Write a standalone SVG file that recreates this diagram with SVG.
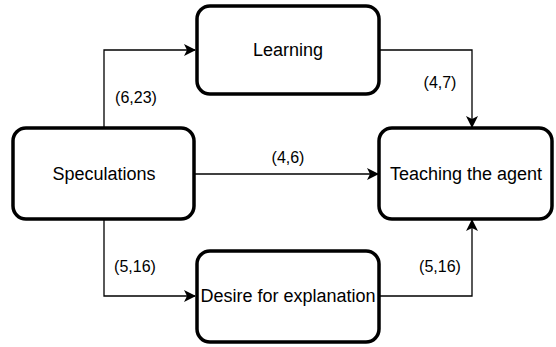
<svg xmlns="http://www.w3.org/2000/svg" width="556" height="347" viewBox="0 0 556 347">
  <style>
    .box { fill: #ffffff; stroke: #000000; stroke-width: 3.5; }
    .node-text { font-family: "Liberation Sans", Arial, sans-serif; font-size: 18px; fill: #000000; text-anchor: middle; }
    .edge { fill: none; stroke: #000000; stroke-width: 1.3; marker-end: url(#arrow); }
    .edge-label { font-family: "Liberation Sans", Arial, sans-serif; font-size: 16px; fill: #000000; text-anchor: middle; }
  </style>
  <defs>
    <marker id="arrow" viewBox="0 0 12 12" refX="11" refY="6" markerWidth="12" markerHeight="12" markerUnits="userSpaceOnUse" orient="auto">
      <path d="M0,0 L12,6 L0,12 L3,6 Z" fill="#000000"/>
    </marker>
  </defs>
  <rect width="556" height="347" fill="#ffffff"/>

  <g id="connectors">
    <path class="edge" d="M104,128 V50 H195"/>
    <path class="edge" d="M380,50 H472 V127"/>
    <path class="edge" d="M194,174 H378"/>
    <path class="edge" d="M104,219 V296 H195"/>
    <path class="edge" d="M379,296 H472 V220"/>
    <text class="edge-label" x="136" y="103">(6,23)</text>
    <text class="edge-label" x="440" y="88">(4,7)</text>
    <text class="edge-label" x="288" y="163">(4,6)</text>
    <text class="edge-label" x="135" y="272">(5,16)</text>
    <text class="edge-label" x="440" y="272">(5,16)</text>
  </g>

  <g id="learning">
    <rect class="box" x="197" y="6" width="182" height="88" rx="13" ry="13"/>
    <text class="node-text" x="288" y="56">Learning</text>
  </g>

  <g id="speculations">
    <rect class="box" x="13" y="128" width="181" height="91" rx="13" ry="13"/>
    <text class="node-text" x="104" y="180">Speculations</text>
  </g>

  <g id="teaching">
    <rect class="box" x="379" y="128" width="173" height="91" rx="13" ry="13"/>
    <text class="node-text" x="466" y="180">Teaching the agent</text>
  </g>

  <g id="desire">
    <rect class="box" x="197" y="251" width="182" height="91" rx="13" ry="13"/>
    <text class="node-text" x="288" y="302">Desire for explanation</text>
  </g>
</svg>
